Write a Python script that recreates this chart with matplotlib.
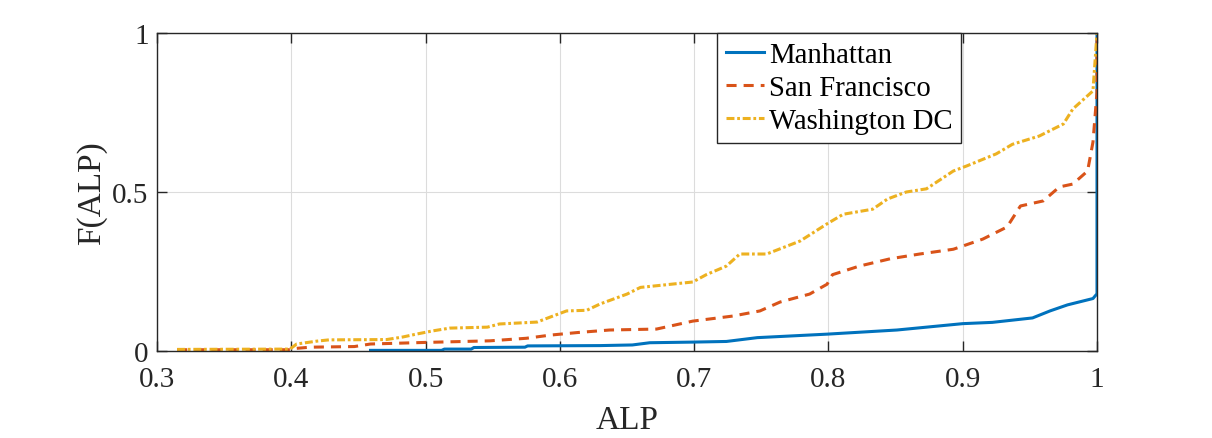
import matplotlib
matplotlib.use('Agg')
import matplotlib.pyplot as plt

plt.rcParams['font.family'] = ['Liberation Serif', 'DejaVu Serif']

# CDF curves: (ALP, F(ALP))
man_x = [0.459, 0.512, 0.514, 0.534, 0.536, 0.574, 0.576, 0.63, 0.654, 0.667, 0.699, 0.724,
         0.747, 0.799, 0.851, 0.90, 0.922, 0.952, 0.965, 0.978, 0.997, 1.0, 1.0]
man_y = [0.002, 0.002, 0.006, 0.006, 0.011, 0.012, 0.016, 0.017, 0.019, 0.026, 0.028, 0.03,
         0.042, 0.053, 0.066, 0.086, 0.09, 0.104, 0.126, 0.145, 0.165, 0.18, 1.0]

sf_x = [0.315, 0.399, 0.403, 0.414, 0.447, 0.459, 0.50, 0.548, 0.575, 0.593, 0.613, 0.637,
        0.672, 0.699, 0.729, 0.749, 0.764, 0.786, 0.799, 0.803, 0.823, 0.846, 0.868,
        0.893, 0.90, 0.915, 0.933, 0.943, 0.96, 0.972, 0.982, 0.993, 0.997, 1.0, 1.0]
sf_y = [0.004, 0.004, 0.008, 0.012, 0.014, 0.022, 0.027, 0.032, 0.04, 0.05, 0.058, 0.066,
        0.069, 0.094, 0.11, 0.126, 0.154, 0.179, 0.21, 0.24, 0.267, 0.29, 0.305,
        0.32, 0.33, 0.352, 0.39, 0.456, 0.472, 0.516, 0.525, 0.566, 0.657, 0.814, 1.0]

dc_x = [0.315, 0.399, 0.404, 0.419, 0.428, 0.471, 0.483, 0.493, 0.505, 0.518, 0.546, 0.555,
        0.583, 0.593, 0.605, 0.62, 0.63, 0.65, 0.66, 0.699, 0.709, 0.724, 0.734, 0.754,
        0.779, 0.799, 0.811, 0.833, 0.844, 0.858, 0.873, 0.893, 0.903, 0.925, 0.937,
        0.957, 0.975, 0.982, 0.997, 1.0]
dc_y = [0.005, 0.006, 0.022, 0.031, 0.035, 0.036, 0.044, 0.053, 0.063, 0.072, 0.075, 0.085,
        0.091, 0.107, 0.126, 0.128, 0.148, 0.179, 0.2, 0.217, 0.24, 0.267, 0.305, 0.305,
        0.346, 0.4, 0.43, 0.446, 0.478, 0.5, 0.51, 0.566, 0.582, 0.62, 0.65,
        0.676, 0.714, 0.761, 0.818, 1.0]

fig = plt.figure(figsize=(12.12, 4.39), dpi=100)
ax = fig.add_axes([157/1212, 1-352/439, 940/1212, 318/439])

ax.plot(man_x, man_y, color='#0072BD', lw=2.2, label='Manhattan')
ax.plot(sf_x, sf_y, color='#D95319', lw=2.2, ls=(0, (3.3, 2.3)), label='San Francisco')
ax.plot(dc_x, dc_y, color='#EDB120', lw=2.2, ls=(0, (2.6, 0.9, 0.9, 0.9)), label='Washington DC')

ax.set_xlim(0.3, 1)
ax.set_ylim(0, 1)
ax.set_xticks([0.3, 0.4, 0.5, 0.6, 0.7, 0.8, 0.9, 1])
ax.set_xticklabels(['0.3', '0.4', '0.5', '0.6', '0.7', '0.8', '0.9', '1'])
ax.set_yticks([0, 0.5, 1])
ax.set_yticklabels(['0', '0.5', '1'])
ax.grid(True, color='#dcdcdc', lw=0.8)
ax.tick_params(direction='in', length=7, width=1, colors='#262626', labelsize=21, top=True, right=True)
ax.tick_params(axis='x', pad=11)
ax.tick_params(axis='y', pad=6)
for s in ax.spines.values():
    s.set_color('#262626')
    s.set_linewidth(1)

ax.set_xlabel('ALP', fontsize=24, color='#262626', labelpad=9)
ax.set_ylabel('F(ALP)', fontsize=24, color='#262626', labelpad=4)

leg = ax.legend(loc='upper left', bbox_to_anchor=(0.596, 1.0), fontsize=20.7, frameon=True,
                fancybox=False, edgecolor='#262626', framealpha=1, borderpad=0.3,
                labelspacing=0.25, handlelength=1.32, handletextpad=0.17, borderaxespad=0)
leg.get_frame().set_linewidth(1)

fig.savefig('out.png', dpi=100)
